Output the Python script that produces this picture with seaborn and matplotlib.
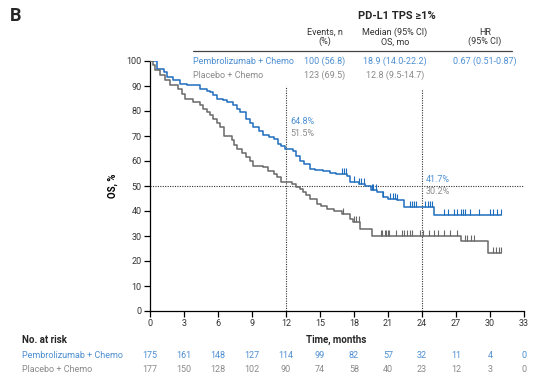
import numpy as np
import pandas as pd
import matplotlib
matplotlib.use("Agg")
import matplotlib.pyplot as plt
import matplotlib.transforms as mtransforms
import seaborn as sns

# Kaplan-Meier step knots (time in months, OS %)
pembro_t = [0, 0.6, 1.2, 1.5, 2.0, 2.65, 3.3, 3.8, 4.4, 5.0, 5.3, 5.6, 5.9, 6.4, 6.8,
            7.35, 7.7, 7.9, 8.5, 8.8, 9.1, 9.6, 10.0, 10.5, 10.9, 11.3, 11.6, 11.95,
            12.65, 12.9, 13.2, 13.6, 14.1, 14.6, 15.3, 15.9, 16.4, 17.35, 17.65, 18.4,
            19.0, 19.5, 20.0, 20.6, 21.0, 21.8, 22.4, 25.1, 31.0]
pembro_s = [100, 96.8, 95.5, 93.7, 92.5, 91.0, 90.6, 90.4, 89.0, 88.2, 87.7, 86.3, 85.0,
            84.3, 83.7, 82.4, 80.8, 79.7, 77.0, 75.3, 73.7, 72.0, 70.4, 69.5, 68.7, 67.0,
            66.0, 64.8, 64.2, 62.0, 60.2, 58.8, 57.0, 56.5, 56.0, 55.3, 55.0, 54.0, 51.7,
            51.0, 50.0, 48.5, 47.7, 45.7, 45.0, 44.4, 41.7, 38.4, 38.4]

placebo_t = [0, 0.24, 0.44, 0.9, 1.3, 1.77, 2.5, 2.8, 3.1, 3.8, 4.4, 4.7, 5.0, 5.3, 5.6,
             5.9, 6.2, 6.5, 7.2, 7.45, 7.65, 8.1, 8.5, 8.8, 9.1, 10.0, 10.4, 10.9, 11.2,
             11.6, 12.5, 12.9, 13.2, 13.5, 13.8, 14.1, 14.7, 15.1, 15.6, 16.2, 16.9, 17.65,
             17.9, 18.5, 19.6, 27.45, 29.8, 31.0]
placebo_s = [100, 98.4, 96.4, 94.4, 92.4, 90.4, 89.0, 87.0, 85.0, 83.7, 82.4, 81.0, 79.7,
             78.3, 77.0, 75.3, 73.7, 70.0, 68.4, 66.6, 65.0, 63.2, 61.7, 60.0, 58.0, 57.5,
             56.2, 55.0, 53.5, 51.5, 51.0, 49.7, 49.0, 47.7, 46.3, 45.0, 43.0, 42.0, 41.0,
             40.0, 39.0, 37.0, 35.5, 33.0, 30.2, 28.0, 23.3, 23.3]

# Censoring times
pembro_cens = [16.97, 17.1, 17.3, 18.0, 18.45, 18.6, 18.9, 19.6, 19.7, 19.9, 20.6, 21.2,
               21.4, 21.6, 21.8, 22.95, 23.15, 23.3, 23.5, 24.3, 24.5, 24.7, 24.9, 25.9,
               26.3, 26.8, 27.1, 27.4, 27.6, 27.8, 28.2, 29.0, 30.0, 30.3, 30.65, 31.0]
placebo_cens = [17.0, 18.0, 18.2, 18.4, 20.4, 20.5, 20.7, 20.8, 21.0, 21.1, 21.7, 22.2,
                22.4, 22.65, 22.9, 23.1, 23.8, 24.1, 24.65, 25.1, 25.4, 25.9, 26.5, 27.1,
                27.8, 28.0, 28.3, 28.6, 30.25, 30.5, 30.8, 31.0]

# Landmark estimates
landmarks = [12, 24]
pembro_land = ["64.8%", "41.7%"]
placebo_land = ["51.5%", "30.2%"]

# Numbers at risk
risk_times = [0, 3, 6, 9, 12, 15, 18, 21, 24, 27, 30, 33]
pembro_risk = [175, 161, 148, 127, 114, 99, 82, 57, 32, 11, 4, 0]
placebo_risk = [177, 150, 128, 102, 90, 74, 58, 40, 23, 12, 3, 0]

arms = ["Pembrolizumab + Chemo", "Placebo + Chemo"]
events = ["100 (56.8)", "123 (69.5)"]
medians = ["18.9 (14.0-22.2)", "12.8 (9.5-14.7)"]
hrs = ["0.67 (0.51-0.87)", ""]

BLUE_LINE = "#1f6dbd"
BLUE_TXT = "#4d8fd1"
GREY_LINE = "#686868"
GREY_TXT = "#8a8a8a"

sns.set_theme(style="ticks")
plt.rcParams["font.family"] = ["Roboto", "DejaVu Sans"]
plt.rcParams["font.size"] = 6.5

W, H = 534, 382
fig = plt.figure(figsize=(W / 100, H / 100), dpi=100)
fig.patch.set_facecolor("white")
ax_left, ax_right, ax_top, ax_bot = 150, 524, 61, 311
ax = fig.add_axes([ax_left / W, 1 - ax_bot / H, (ax_right - ax_left) / W, (ax_bot - ax_top) / H])
ax.set_facecolor("white")


def fx(px):
    return px / W


def fy(py):
    return 1 - py / H


df = pd.concat([
    pd.DataFrame({"t": pembro_t, "s": pembro_s, "arm": arms[0]}),
    pd.DataFrame({"t": placebo_t, "s": placebo_s, "arm": arms[1]}),
])
sns.lineplot(data=df, x="t", y="s", hue="arm", palette=[BLUE_LINE, GREY_LINE],
             drawstyle="steps-post", linewidth=1.1, legend=False, ax=ax,
             estimator=None, sort=False, zorder=3)


def step_value(times, vals, t):
    idx = np.searchsorted(times, t, side="right") - 1
    return np.asarray(vals)[idx]


for cens, times, vals, col in [(pembro_cens, pembro_t, pembro_s, BLUE_LINE),
                               (placebo_cens, placebo_t, placebo_s, GREY_LINE)]:
    yv = step_value(times, vals, np.array(cens))
    ax.vlines(cens, yv, yv + 2.4, color=col, linewidth=0.8, zorder=3)

# Reference lines
ax.axhline(50, color="#333333", linestyle=(0, (1, 1.2)), linewidth=0.8, zorder=2)
ax.vlines(12, 0, 90, color="#333333", linestyle=(0, (1, 1.2)), linewidth=0.8, zorder=2)
ax.vlines(24, 0, 89, color="#333333", linestyle=(0, (1, 1.2)), linewidth=0.8, zorder=2)

# Landmark labels
ax.text(12.35, 76, pembro_land[0], color=BLUE_TXT, fontsize=6.5, va="center", ha="left")
ax.text(12.35, 70.8, placebo_land[0], color=GREY_TXT, fontsize=6.5, va="center", ha="left")
ax.text(24.35, 52.8, pembro_land[1], color=BLUE_TXT, fontsize=6.5, va="center", ha="left")
ax.text(24.35, 47.9, placebo_land[1], color=GREY_TXT, fontsize=6.5, va="center", ha="left")

ax.set_xlim(0, 33)
ax.set_ylim(0, 100)
ax.set_xticks(risk_times)
ax.set_yticks(range(0, 101, 10))
ax.tick_params(axis="both", length=4, width=0.9, color="black", labelsize=6.5,
               labelcolor="#333333", pad=2)
for side in ["top", "right"]:
    ax.spines[side].set_visible(False)
for side in ["left", "bottom"]:
    ax.spines[side].set_linewidth(0.9)
    ax.spines[side].set_color("black")
ax.set_xlabel("")
ax.set_ylabel("OS, %", fontsize=7, fontweight="bold", color="black", labelpad=6)

# Panel letter and header table
fig.text(fx(10), fy(16), "B", fontsize=13, fontweight="bold", va="center", ha="left")
fig.text(fx(397), fy(16), "PD-L1 TPS ≥1%", fontsize=8, fontweight="bold", va="center", ha="center")
col_x = [325, 395, 485]
headers = ["Events, n\n(%)", "Median (95% CI)\nOS, mo", "HR\n(95% CI)"]
for cx, h in zip(col_x, headers):
    fig.text(fx(cx), fy(37), h, fontsize=6.5, color="#333333", va="center", ha="center",
             linespacing=1.0)
fig.add_artist(plt.Line2D([fx(193), fx(512)], [fy(51), fy(51)], color="#444444",
                          linewidth=0.9, transform=fig.transFigure))
row_y = [61, 75]
row_col = [BLUE_TXT, GREY_TXT]
for i in range(2):
    fig.text(fx(193), fy(row_y[i]), arms[i], fontsize=6.5, color=row_col[i], va="center", ha="left")
    for cx, val in zip(col_x, [events[i], medians[i], hrs[i]]):
        if val:
            fig.text(fx(cx), fy(row_y[i]), val, fontsize=6.5, color=row_col[i],
                     va="center", ha="center")

# Axis title and risk table
fig.text(fx(336), fy(340), "Time, months", fontsize=7, fontweight="bold", va="center", ha="center")
fig.text(fx(22), fy(340), "No. at risk", fontsize=7, fontweight="bold", va="center", ha="left")
trans = mtransforms.blended_transform_factory(ax.transData, fig.transFigure)
for i, (risk, ry) in enumerate([(pembro_risk, 355), (placebo_risk, 370)]):
    fig.text(fx(22), fy(ry), arms[i], fontsize=6.5, color=row_col[i], va="center", ha="left")
    for t, n in zip(risk_times, risk):
        ax.text(t, fy(ry), str(n), transform=trans, fontsize=6.5, color=row_col[i],
                va="center", ha="center", clip_on=False)

fig.savefig("out.png", dpi=100, facecolor="white")
